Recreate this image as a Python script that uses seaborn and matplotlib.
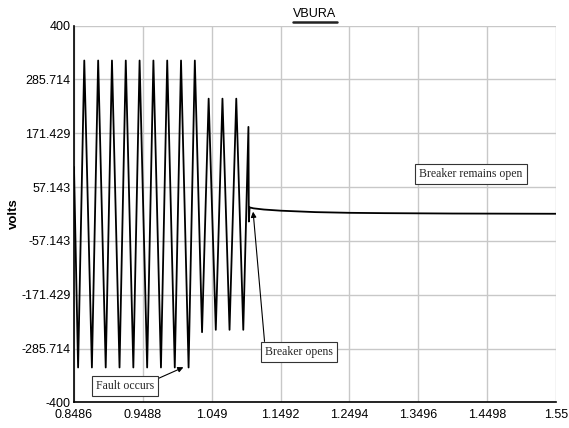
import matplotlib
matplotlib.use("Agg")
import matplotlib.pyplot as plt
from matplotlib.lines import Line2D
import numpy as np
import pandas as pd
import seaborn as sns

# ---- data (breakpoints of the trace: extrema, spike, decay) ----
pre_fault_t = [0.8486, 0.8546, 0.8636, 0.8747, 0.8838, 0.8948, 0.9039, 0.9149, 0.9240,
               0.9350, 0.9441, 0.9551, 0.9642, 0.9752, 0.9843, 0.9953, 1.0044, 1.0154, 1.0245]
pre_fault_v = [100, -326, 326, -326, 326, -326, 326, -326, 326,
               -326, 326, -326, 326, -326, 326, -326, 326, -326, 326]
fault_t = [1.0350, 1.0446, 1.0550, 1.0647, 1.0750, 1.0848, 1.0950]
fault_v = [-251, 245, -246, 245, -246, 245, -246]
spike_t = [1.1025, 1.1031, 1.1042]
spike_v = [185, -16, 14]
tail_t = [1.110, 1.125, 1.150, 1.200, 1.250, 1.300, 1.400, 1.550]
tail_v = [12, 9.5, 7, 4, 2.5, 1.8, 1.0, 0.5]

x_ticks = [0.8486, 0.9488, 1.049, 1.1492, 1.2494, 1.3496, 1.4498, 1.55]
x_tick_labels = ["0.8486", "0.9488", "1.049", "1.1492", "1.2494", "1.3496", "1.4498", "1.55"]
y_ticks = [-400, -285.714, -171.429, -57.143, 57.143, 171.429, 285.714, 400]
y_tick_labels = ["-400", "-285.714", "-171.429", "-57.143", "57.143", "171.429", "285.714", "400"]

title = "VBURA"
y_label = "volts"
notes = ["Fault occurs", "Breaker opens", "Breaker remains open"]
note_xy = [(1.0079, -325.6), (1.1093, 4.9), None]
note_text_xy = [(0.9229, -366), (1.1759, -293), (1.4262, 85)]

df = pd.DataFrame({
    "t": pre_fault_t + fault_t + spike_t + tail_t,
    "v": pre_fault_v + fault_v + spike_v + tail_v,
})

sns.set_theme(style="whitegrid")
plt.rcParams["font.family"] = ["Liberation Sans", "DejaVu Sans"]

fig = plt.figure(figsize=(5.69, 4.28), dpi=100)
ax = fig.add_axes([0.130, 0.060, 0.847, 0.880])
ax.set_facecolor("white")

sns.lineplot(data=df, x="t", y="v", sort=False, estimator=None,
             color="black", lw=1.3, ax=ax)

ax.set_xlim(x_ticks[0], x_ticks[-1])
ax.set_ylim(y_ticks[0], y_ticks[-1])
ax.set_xticks(x_ticks)
ax.set_xticklabels(x_tick_labels)
ax.set_yticks(y_ticks)
ax.set_yticklabels(y_tick_labels)
ax.tick_params(axis="both", length=0, labelsize=9, colors="black")
ax.tick_params(axis="x", pad=5)
ax.tick_params(axis="y", pad=2.5)
ax.grid(True, color="#c8c8c8", lw=1.0)
for side in ["top", "right"]:
    ax.spines[side].set_visible(False)
for side in ["left", "bottom"]:
    ax.spines[side].set_visible(True)
    ax.spines[side].set_color("black")
    ax.spines[side].set_linewidth(1.2)

ax.set_xlabel("")
ax.set_ylabel(y_label, fontsize=9.5, fontweight="bold", color="black")
ax.yaxis.set_label_coords(-0.112, 0.5)

ttl = ax.set_title(title, fontsize=9, color="black", pad=6.5)

box = dict(boxstyle="square,pad=0.35", fc="white", ec="#333333", lw=0.8)
serif = ["Liberation Serif", "DejaVu Serif"]
arrow = dict(arrowstyle="-|>", color="black", lw=0.8, mutation_scale=8,
             shrinkA=0, shrinkB=0)

ax.annotate(notes[0], xy=note_xy[0], xytext=note_text_xy[0], ha="center", va="center",
            fontsize=8.5, family=serif, bbox=box,
            arrowprops=dict(arrow, relpos=(1, 1)))
ax.annotate(notes[1], xy=note_xy[1], xytext=note_text_xy[1], ha="center", va="center",
            fontsize=8.5, family=serif, bbox=box,
            arrowprops=dict(arrow, relpos=(0, 1)))
ax.text(note_text_xy[2][0], note_text_xy[2][1], notes[2], ha="center", va="center",
        fontsize=8.5, family=serif, bbox=box)

# underline the title
fig.canvas.draw()
bb = ttl.get_window_extent().transformed(fig.transFigure.inverted())
fig.add_artist(Line2D([bb.x0, bb.x1], [bb.y0 - 0.005, bb.y0 - 0.005],
                      transform=fig.transFigure, color="#222222", lw=1.8))

fig.savefig("out.png", dpi=100, facecolor="white")
